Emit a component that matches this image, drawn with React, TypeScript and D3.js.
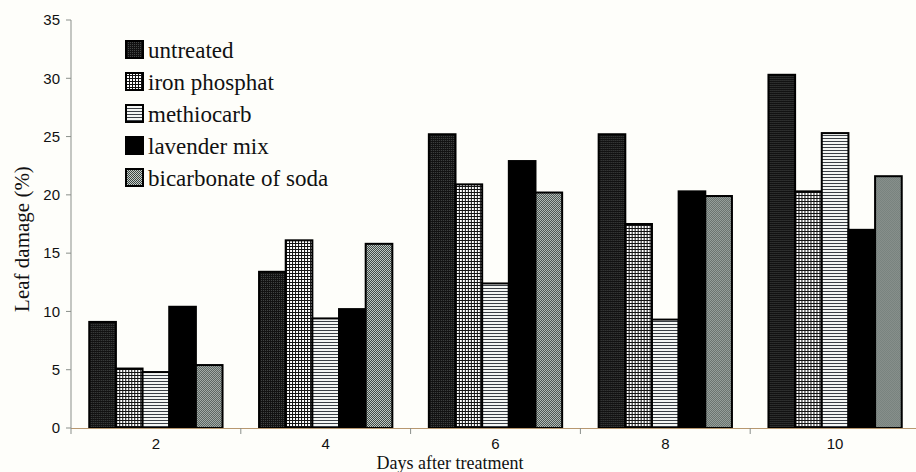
import React from "react";
import * as d3 from "d3";

// Leaf damage (%) per treatment, measured on successive days after treatment
const days = ["2", "4", "6", "8", "10"];
const treatments = ["untreated", "iron phosphat", "methiocarb", "lavender mix", "bicarbonate of soda"];
const untreated = [9.1, 13.4, 25.2, 25.2, 30.3];
const ironPhosphat = [5.1, 16.1, 20.9, 17.5, 20.3];
const methiocarb = [4.8, 9.4, 12.4, 9.3, 25.3];
const lavenderMix = [10.4, 10.2, 22.9, 20.3, 17.0];
const bicarbonate = [5.4, 15.8, 20.2, 19.9, 21.6];
const yTicks = [0, 5, 10, 15, 20, 25, 30, 35];

const seriesValues = [untreated, ironPhosphat, methiocarb, lavenderMix, bicarbonate];
const fills = ["url(#pDots)", "url(#pGrid)", "url(#pStripe)", "#000000", "url(#pGray)"];

const W = 916;
const H = 472;
const left = 71;
const right = 920;
const top = 20;
const bottom = 428;

const serif = "'Liberation Serif', 'Times New Roman', Times, serif";
const sans = "'Liberation Sans', Arial, Helvetica, sans-serif";

export default function App() {
  const x0 = d3.scaleBand<string>().domain(days).range([left, right]).paddingInner(0.215).paddingOuter(0.1075);
  const x1 = d3.scaleBand<string>().domain(treatments).range([0, x0.bandwidth()]);
  const y = d3.scaleLinear().domain([0, 35]).range([bottom, top]);
  const step = x0.step();
  const boundaries = d3.range(days.length).map((i) => left + i * step);

  return (
    <svg width={W} height={H} style={{ position: "absolute", left: 0, top: 0 }}>
      <defs>
        <pattern id="pDots" width="2" height="2" patternUnits="userSpaceOnUse">
          <rect width="2" height="2" fill="#121212" />
          <rect width="1" height="1" fill="#444746" />
        </pattern>
        <pattern id="pGrid" width="3" height="3" patternUnits="userSpaceOnUse">
          <rect width="3" height="3" fill="#ffffff" />
          <rect width="1" height="3" fill="#111111" />
          <rect width="3" height="1" fill="#111111" />
        </pattern>
        <pattern id="pStripe" width="3" height="3" patternUnits="userSpaceOnUse">
          <rect width="3" height="3" fill="#f4f6f4" />
          <rect width="3" height="1" fill="#3a3f45" />
        </pattern>
        <pattern id="pGray" width="2" height="2" patternUnits="userSpaceOnUse">
          <rect width="2" height="2" fill="#c6ceca" />
          <rect width="1" height="1" fill="#3a4440" />
          <rect x="1" y="1" width="1" height="1" fill="#3a4440" />
        </pattern>
      </defs>
      <rect width={W} height={H} fill="#fefefa" />

      {/* bars */}
      {days.map((d, i) => (
        <g key={d} transform={`translate(${x0(d)},0)`}>
          {treatments.map((t, j) => {
            const v = seriesValues[j][i];
            return (
              <rect
                key={t}
                x={x1(t)}
                y={y(v)}
                width={x1.bandwidth()}
                height={y(0) - y(v)}
                fill={fills[j]}
                stroke="#000"
                strokeWidth={2}
              />
            );
          })}
        </g>
      ))}

      {/* y axis */}
      <line x1={left} x2={left} y1={top} y2={bottom} stroke="#8a8f8a" strokeWidth={1} />
      {yTicks.map((t) => (
        <g key={t}>
          <line x1={left - 5} x2={left} y1={y(t)} y2={y(t)} stroke="#8a8f8a" />
          <text x={60} y={y(t)} dy="0.35em" textAnchor="end" style={{ fontFamily: sans, fontSize: 15 }} fill="#111">
            {t}
          </text>
        </g>
      ))}

      {/* x axis */}
      <line x1={left} x2={W} y1={bottom + 0.5} y2={bottom + 0.5} stroke="#b89870" strokeWidth={1} />
      {boundaries.map((bx, i) => (
        <line key={i} x1={bx} x2={bx} y1={bottom} y2={bottom + 6} stroke="#8a8f8a" />
      ))}
      {days.map((d) => (
        <text
          key={d}
          x={(x0(d) as number) + x0.bandwidth() / 2}
          y={444}
          dy="0.35em"
          textAnchor="middle"
          style={{ fontFamily: sans, fontSize: 15 }}
          fill="#111"
        >
          {d}
        </text>
      ))}

      {/* axis titles */}
      <text x={450} y={469} textAnchor="middle" style={{ fontFamily: serif, fontSize: 18 }} fill="#111">
        Days after treatment
      </text>
      <text
        transform="translate(22,239) rotate(-90)"
        dy="0.35em"
        textAnchor="middle"
        style={{ fontFamily: serif, fontSize: 21 }}
        fill="#111"
      >
        Leaf damage (%)
      </text>

      {/* legend */}
      {treatments.map((t, j) => {
        const cy = 50 + j * 32;
        return (
          <g key={t}>
            <rect x={126} y={cy - 9} width={17} height={17} fill={fills[j]} stroke="#000" strokeWidth={2} />
            <text x={148} y={cy} dy="0.35em" style={{ fontFamily: serif, fontSize: 23 }} fill="#111">
              {t}
            </text>
          </g>
        );
      })}
    </svg>
  );
}
